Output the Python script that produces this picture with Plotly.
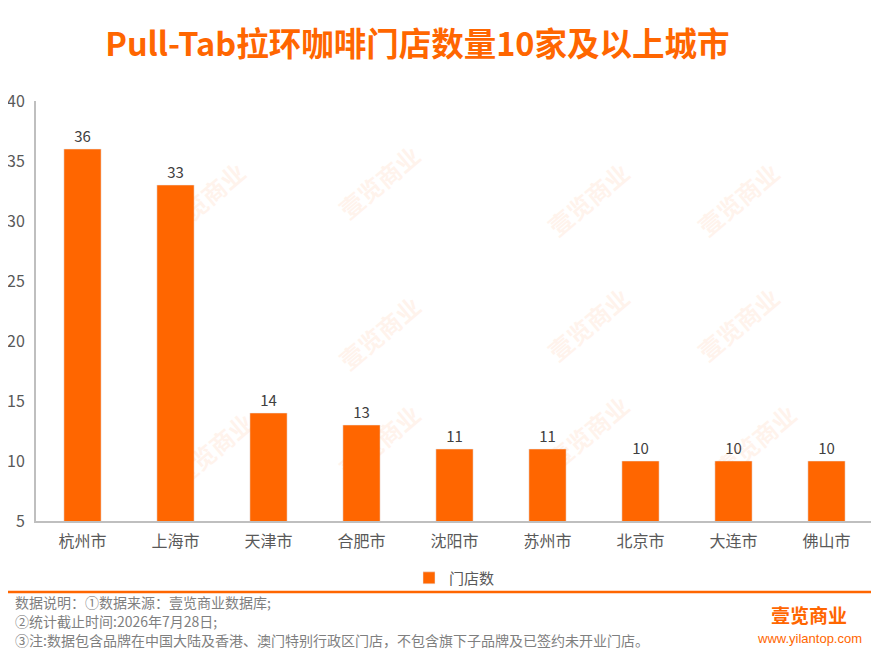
import plotly.graph_objects as go

cities = ["杭州市", "上海市", "天津市", "合肥市", "沈阳市", "苏州市", "北京市", "大连市", "佛山市"]
stores = [36, 33, 14, 13, 11, 11, 10, 10, 10]
y_ticks = [5, 10, 15, 20, 25, 30, 35, 40]

orange = "#FF6600"
font = "Noto Sans CJK SC"

fig = go.Figure()
fig.add_trace(go.Bar(
    x=cities, y=stores, name="门店数",
    marker_color=orange, width=0.4,
    text=stores, textposition="outside",
    textfont=dict(size=15, color="#404040"),
    cliponaxis=False,
))

# the page body has an 8px margin, so the figure is a little smaller
fig.update_layout(
    width=871, height=647,
    margin=dict(l=28, r=6, t=93, b=134),
    paper_bgcolor="white", plot_bgcolor="white",
    font=dict(family=font, color="#595959", size=15),
    title=dict(text="<b>Pull-Tab拉环咖啡门店数量10家及以上城市</b>",
               x=0.47, xanchor="center", y=0.944, yanchor="middle",
               font=dict(size=32.5, color=orange, family=font)),
    showlegend=True,
    legend=dict(orientation="h", x=0.5, xanchor="center", y=-0.136, yanchor="middle",
                bgcolor="rgba(0,0,0,0)", font=dict(size=15, color="#595959")),
)
fig.update_yaxes(range=[5, 40], tickvals=y_ticks, showgrid=False, zeroline=False,
                 showline=True, linecolor="#bfbfbf", linewidth=2, automargin=False,
                 ticks="", tickfont=dict(size=16, color="#595959"), ticklabelstandoff=6)
fig.update_xaxes(showgrid=False, showline=True, linecolor="#bfbfbf", linewidth=2,
                 automargin=False, ticks="", tickfont=dict(size=16, color="#595959"),
                 ticklabelstandoff=5)

# divider line
fig.add_shape(type="line", xref="paper", yref="paper", x0=-0.035, x1=1.007,
              y0=-0.169, y1=-0.169, line=dict(color=orange, width=2.5))

notes = ["数据说明：①数据来源：壹览商业数据库;",
         "②统计截止时间:2026年7月28日;",
         "③注:数据包含品牌在中国大陆及香港、澳门特别行政区门店，不包含旗下子品牌及已签约未开业门店。"]
for i, t in enumerate(notes):
    fig.add_annotation(text=t, xref="paper", yref="paper", x=-0.028, xanchor="left",
                       y=-0.193 - i * 0.0455, yanchor="middle", showarrow=False,
                       font=dict(size=14, color="#7f7f7f"))

# logo
fig.add_annotation(text="<b>壹览商业</b>", xref="paper", yref="paper", x=0.924, xanchor="center",
                   y=-0.223, yanchor="middle", showarrow=False,
                   font=dict(size=19, color=orange))
fig.add_annotation(text="www.yilantop.com", xref="paper", yref="paper", x=0.924, xanchor="center",
                   y=-0.28, yanchor="middle", showarrow=False,
                   font=dict(size=13, color=orange, family="Liberation Sans"))

# faint watermarks
marks = [(0.14, 0.88), (0.41, 0.92), (0.66, 0.88), (0.9, 0.88),
         (0.41, 0.45), (0.66, 0.47), (0.9, 0.47),
         (0.15, 0.06), (0.41, 0.08), (0.66, 0.1), (0.92, 0.08)]
for mx, my in marks:
    fig.add_annotation(text="<b>壹览商业</b>", xref="paper", yref="paper", x=mx, y=my,
                       showarrow=False, textangle=-40, opacity=0.07,
                       font=dict(size=24, color=orange))

fig.write_html("out.html")
